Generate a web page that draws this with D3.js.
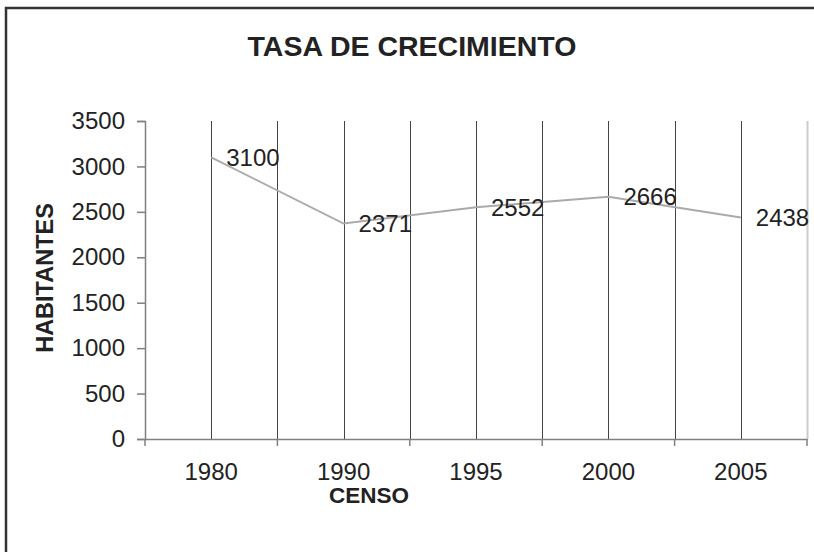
<!DOCTYPE html>
<html>
<head>
<meta charset="utf-8">
<script src="https://cdn.jsdelivr.net/npm/d3@7"></script>
<style>
  body { margin: 0; background: #fff; }
  text { font-family: "Liberation Sans", Arial, sans-serif; fill: #222; }
</style>
</head>
<body>
<svg width="814" height="552"></svg>
<script>
var censos = ["1980", "1990", "1995", "2000", "2005"];
var habitantes = [3100, 2371, 2552, 2666, 2438];
var yTicks = [0, 500, 1000, 1500, 2000, 2500, 3000, 3500];

var svg = d3.select("svg"),
    width = +svg.attr("width"),
    height = +svg.attr("height");

var plotLeft = 145, plotRight = 807, plotTop = 121, plotBottom = 439;

// outer frame (cut off at right and bottom like the picture)
svg.append("rect")
    .attr("x", 6).attr("y", 8)
    .attr("width", 830).attr("height", 570)
    .attr("fill", "none")
    .attr("stroke", "#333")
    .attr("stroke-width", 2.5);

var x = d3.scaleBand().domain(censos).range([plotLeft, plotRight]);
var y = d3.scaleLinear().domain([0, 3500]).range([plotBottom, plotTop]);

// vertical grid lines: band edges and centers
var gridX = [];
censos.forEach(function(c, i) {
    gridX.push({pos: x(c) + x.bandwidth() / 2, last: false});
    gridX.push({pos: x(c) + x.bandwidth(), last: i == censos.length - 1});
});

svg.append("g")
    .attr("class", "grid")
    .selectAll("line")
    .data(gridX)
    .enter().append("line")
    .attr("x1", function(d) { return Math.round(d.pos) + 0.5; })
    .attr("x2", function(d) { return Math.round(d.pos) + 0.5; })
    .attr("y1", plotTop)
    .attr("y2", plotBottom)
    .attr("stroke", function(d) { return d.last ? "#ccc" : "#444"; })
    .attr("stroke-width", function(d) { return d.last ? 2 : 1; });

// y axis
var yAxis = svg.append("g")
    .attr("transform", "translate(" + plotLeft + ",0)")
    .call(d3.axisLeft(y).tickValues(yTicks).tickFormat(d3.format("d"))
        .tickSize(8).tickPadding(12));
yAxis.select(".domain").attr("stroke", "#808080").attr("stroke-width", 1.5);
yAxis.selectAll(".tick line").attr("stroke", "#808080").attr("stroke-width", 1.5);
yAxis.selectAll(".tick text")
    .attr("font-size", 24)
    .attr("font-family", "Liberation Sans, Arial, sans-serif")
    .attr("fill", "#222");

// x axis, ticks at the band edges
var xAxis = svg.append("g")
    .attr("transform", "translate(0," + plotBottom + ")")
    .call(d3.axisBottom(x).tickSize(0).tickPadding(24));
xAxis.select(".domain").attr("stroke", "#808080").attr("stroke-width", 1.5);
xAxis.selectAll(".tick text")
    .attr("font-size", 24)
    .attr("font-family", "Liberation Sans, Arial, sans-serif")
    .attr("fill", "#222");

var edges = [plotLeft].concat(censos.map(function(c) { return x(c) + x.bandwidth(); }));
svg.append("g")
    .selectAll("line")
    .data(edges)
    .enter().append("line")
    .attr("x1", function(d) { return d; })
    .attr("x2", function(d) { return d; })
    .attr("y1", plotBottom)
    .attr("y2", plotBottom + 7)
    .attr("stroke", "#808080")
    .attr("stroke-width", 1.5);

// the series line
var line = d3.line()
    .x(function(d, i) { return x(censos[i]) + x.bandwidth() / 2; })
    .y(function(d) { return y(d); });

svg.append("path")
    .datum(habitantes)
    .attr("d", line)
    .attr("fill", "none")
    .attr("stroke", "#aaa")
    .attr("stroke-width", 2);

// data labels
svg.append("g")
    .selectAll("text")
    .data(habitantes)
    .enter().append("text")
    .attr("x", function(d, i) { return x(censos[i]) + x.bandwidth() / 2 + 15; })
    .attr("y", function(d) { return y(d); })
    .attr("dy", "0.36em")
    .attr("font-size", 24)
    .text(function(d) { return d; });

// titles
svg.append("text")
    .attr("x", 412)
    .attr("y", 56)
    .attr("text-anchor", "middle")
    .attr("font-size", 28.5)
    .attr("font-weight", "bold")
    .text("TASA DE CRECIMIENTO");

svg.append("text")
    .attr("transform", "translate(53,278) rotate(-90)")
    .attr("text-anchor", "middle")
    .attr("font-size", 23.5)
    .attr("font-weight", "bold")
    .text("HABITANTES");

svg.append("text")
    .attr("x", 369)
    .attr("y", 503)
    .attr("text-anchor", "middle")
    .attr("font-size", 22.5)
    .attr("font-weight", "bold")
    .text("CENSO");
</script>
</body>
</html>
